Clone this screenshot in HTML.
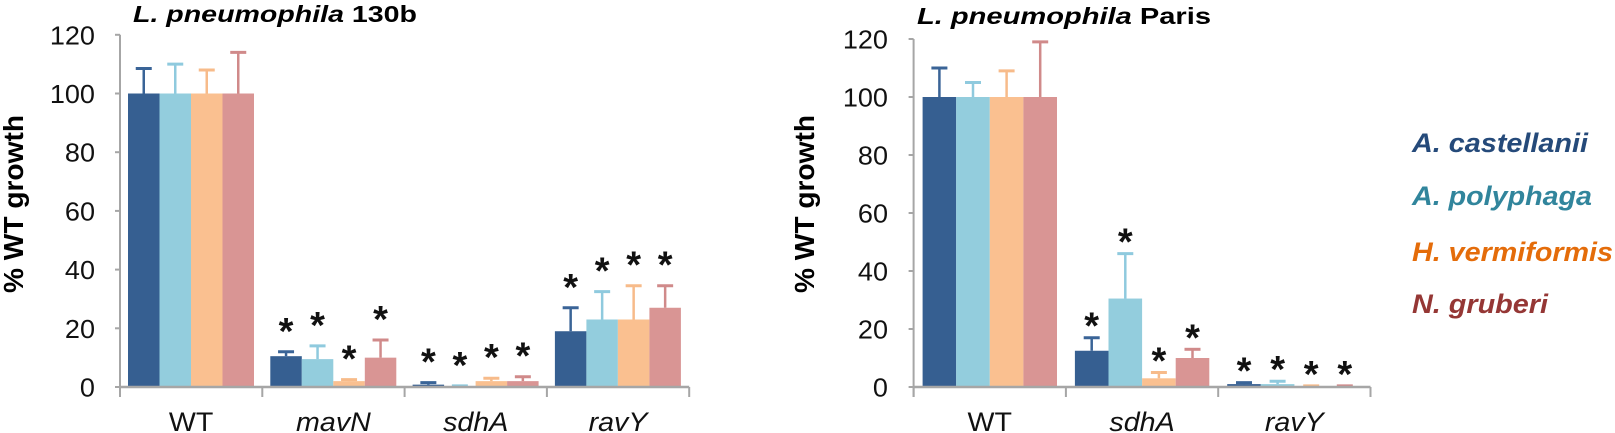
<!DOCTYPE html>
<html><head><meta charset="utf-8"><style>
html,body{margin:0;padding:0;background:#fff;}
svg{display:block;font-family:"Liberation Sans",Arial,sans-serif;}
</style></head><body>
<svg id="s" width="1615" height="433" viewBox="0 0 1615 433" xmlns="http://www.w3.org/2000/svg">
<text x="133" y="22" font-size="23" font-weight="bold" textLength="284" lengthAdjust="spacingAndGlyphs"><tspan font-style="italic">L. pneumophila</tspan> 130b</text>
<text x="917" y="24" font-size="23" font-weight="bold" textLength="294" lengthAdjust="spacingAndGlyphs"><tspan font-style="italic">L. pneumophila</tspan> Paris</text>
<text transform="translate(23,204) rotate(-90)" text-anchor="middle" font-size="28" font-weight="bold" textLength="178" lengthAdjust="spacingAndGlyphs">% WT growth</text>
<text transform="translate(814,204) rotate(-90)" text-anchor="middle" font-size="28" font-weight="bold" textLength="178" lengthAdjust="spacingAndGlyphs">% WT growth</text>
<g font-size="27" font-weight="bold" font-style="italic">
<text x="1412" y="152" fill="#254a7a" textLength="176" lengthAdjust="spacingAndGlyphs">A. castellanii</text>
<text x="1412" y="205" fill="#31859c" textLength="180" lengthAdjust="spacingAndGlyphs">A. polyphaga</text>
<text x="1412" y="261" fill="#e46c0a" textLength="201" lengthAdjust="spacingAndGlyphs">H. vermiformis</text>
<text x="1412" y="313" fill="#953735" textLength="136" lengthAdjust="spacingAndGlyphs">N. gruberi</text>
</g>
</svg>
<script>
var NS="http://www.w3.org/2000/svg",s=document.getElementById('s');
function el(t,a,txt){var e=document.createElementNS(NS,t);for(var k in a)e.setAttribute(k,a[k]);if(txt!==undefined)e.textContent=txt;s.appendChild(e);return e;}
function stretch(e,f){var w=e.getComputedTextLength();e.setAttribute('textLength',w*f);e.setAttribute('lengthAdjust','spacingAndGlyphs');}
var cols=["#365f91","#93cddd","#fac090","#d99594"];
var ecols=["#3a6497","#8fcade","#f7bb8a","#d08a8a"];
function chart(o){
 var y=function(v){return 387-o.k*v;};
 for(var t=0;t<=120;t+=20){
  var e=el('text',{x:o.lx,y:y(t)+9.5,'font-size':26,'text-anchor':'end',fill:'#111'},String(t));
  stretch(e,1.04);
  el('line',{x1:o.ax-5,x2:o.ax,y1:y(t),y2:y(t),stroke:'#a6a6a6','stroke-width':2});
 }
 el('line',{x1:o.ax,x2:o.ax,y1:y(120),y2:397,stroke:'#a6a6a6','stroke-width':2});
 var n=o.data.length;
 for(var c=0;c<n;c++){
  var cx=o.ax+o.cw*c;
  for(var i=0;i<4;i++){
   var d=o.data[c][i],bx=cx+o.off+o.bw*i,mid=bx+o.bw/2;
   el('rect',{x:bx,y:y(d[0]),width:o.bw,height:o.k*d[0],fill:cols[i]});
   if(d[1]>d[0]){
    el('line',{x1:mid,x2:mid,y1:y(d[1]),y2:y(d[0]),stroke:ecols[i],'stroke-width':2.5});
    el('line',{x1:mid-8,x2:mid+8,y1:y(d[1]),y2:y(d[1]),stroke:ecols[i],'stroke-width':3});
   }
   if(d[2]) el('text',{x:mid,y:y(Math.max(d[1],d[0]))-o.ag,'font-size':38,'font-weight':'bold','text-anchor':'middle',fill:'#111'},'*');
  }
  var lt=el('text',{x:cx+o.cw/2,y:431,'font-size':27,'text-anchor':'middle','font-style':c==0?'normal':'italic',fill:'#111'},o.labels[c]);
  stretch(lt,1.06);
 }
 el('line',{x1:o.ax,x2:o.ax+o.cw*n,y1:387,y2:387,stroke:'#a6a6a6','stroke-width':2.5});
 for(var c=0;c<=n;c++){var tx=o.ax+o.cw*c;el('line',{x1:tx,x2:tx,y1:387,y2:397,stroke:'#a6a6a6','stroke-width':2});}
}
chart({ax:120,cw:142.3,off:8,bw:31.5,k:2.935,lx:95,ag:8,labels:["WT","mavN","sdhA","ravY"],
 data:[[[100,108.5],[100,110],[100,108],[100,114]],
       [[10.5,12,1],[9.5,14,1],[2,2.5,1],[10,16,1]],
       [[0.8,1.5,1],[0.3,0.4,1],[2,3,1],[2,3.5,1]],
       [[19,27,1],[23,32.5,1],[23,34.5,1],[27,34.5,1]]]});
chart({ax:913.6,cw:152.3,off:9,bw:33.6,k:2.9,lx:888,ag:-1,labels:["WT","sdhA","ravY"],
 data:[[[100,110],[100,105],[100,109],[100,119]],
       [[12.5,17,1],[30.5,46,1],[3,5,1],[10,13,1]],
       [[1,1.5,1],[1,2,1],[0.3,0.4,1],[0.3,0.4,1]]]});
</script>
</body></html>
